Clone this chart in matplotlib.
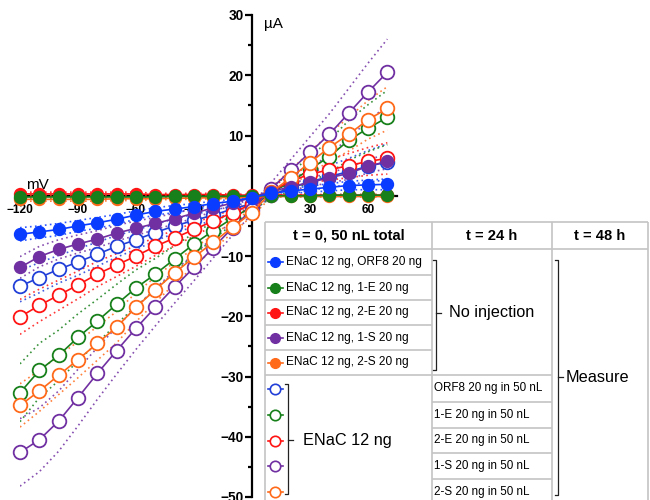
import matplotlib.pyplot as plt
from matplotlib.lines import Line2D
from matplotlib.patches import Rectangle

plt.rcParams['font.family'] = ['Liberation Sans', 'DejaVu Sans']

# holding potential steps (mV)
voltage = [-120, -110, -100, -90, -80, -70, -60, -50, -40, -30,
           -20, -10, 0, 10, 20, 30, 40, 50, 60, 70]

# mean current (uA), co-injected at t = 0 (filled symbols)
orf8_co = [-6.4, -6.0, -5.6, -5.0, -4.5, -3.9, -3.2, -2.6, -2.2, -1.8,
           -1.3, -0.9, -0.3, 0.4, 0.8, 1.1, 1.4, 1.7, 1.8, 1.9]
e1_co = [-0.2, -0.2, -0.2, -0.2, -0.2, -0.2, -0.2, -0.2, -0.1, -0.1,
         -0.1, -0.1, 0.0, 0.0, 0.0, 0.0, 0.1, 0.1, 0.1, 0.1]
e2_co = [0.3, 0.3, 0.3, 0.3, 0.3, 0.3, 0.3, 0.2, 0.2, 0.2,
         0.2, 0.1, 0.1, 0.1, 0.1, 0.1, 0.1, 0.1, 0.1, 0.1]
s1_co = [-11.9, -10.1, -8.9, -8.0, -7.2, -6.2, -5.4, -4.6, -3.8, -2.9,
         -2.0, -1.2, -0.3, 0.7, 1.5, 2.2, 3.0, 3.7, 4.9, 5.7]
s2_co = [-0.6, -0.6, -0.6, -0.6, -0.6, -0.5, -0.5, -0.5, -0.4, -0.4,
         -0.3, -0.3, -0.2, -0.1, -0.1, -0.1, -0.1, -0.1, -0.1, -0.1]

# mean current (uA), second injection at t = 24 h (open symbols)
orf8_24 = [-15.0, -13.6, -12.2, -11.0, -9.7, -8.4, -7.3, -6.1, -5.0, -4.1,
           -3.2, -2.2, -1.3, 0.2, 1.3, 2.3, 3.2, 4.0, 4.9, 5.6]
e1_24 = [-32.7, -29.0, -26.5, -23.5, -20.8, -18.0, -15.3, -13.0, -10.5, -8.0,
         -5.8, -3.7, -1.8, 0.5, 2.3, 4.4, 6.5, 9.2, 11.2, 13.0]
e2_24 = [-20.1, -18.2, -16.5, -14.8, -13.0, -11.5, -10.0, -8.4, -7.0, -5.6,
         -4.2, -2.8, -1.4, 0.8, 2.4, 3.6, 4.3, 5.0, 5.7, 6.2]
s1_24 = [-42.6, -40.5, -37.4, -33.5, -29.5, -25.7, -22.0, -18.5, -15.1, -11.9,
         -8.6, -5.3, -2.3, 1.2, 4.2, 7.2, 10.2, 13.7, 17.2, 20.5]
s2_24 = [-34.8, -32.4, -29.8, -27.2, -24.5, -21.8, -18.5, -15.6, -12.8, -10.2,
         -7.7, -5.2, -2.8, 0.6, 3.0, 5.5, 8.0, 10.2, 12.6, 14.5]

# SD (uA), drawn as dotted lines
orf8_co_sd = [1.1, 1.0, 1.0, 0.9, 0.9, 0.8, 0.7, 0.6, 0.6, 0.5,
              0.4, 0.3, 0.2, 0.3, 0.4, 0.5, 0.6, 0.7, 0.8, 0.9]
e1_co_sd = [0.3, 0.3, 0.3, 0.3, 0.3, 0.3, 0.3, 0.2, 0.2, 0.2,
            0.2, 0.2, 0.1, 0.1, 0.1, 0.1, 0.1, 0.1, 0.1, 0.1]
e2_co_sd = [0.3, 0.3, 0.3, 0.3, 0.3, 0.3, 0.3, 0.2, 0.2, 0.2,
            0.2, 0.2, 0.1, 0.1, 0.1, 0.1, 0.1, 0.1, 0.1, 0.1]
s1_co_sd = [1.8, 1.7, 1.6, 1.5, 1.4, 1.3, 1.2, 1.0, 0.9, 0.8,
            0.6, 0.4, 0.2, 0.3, 0.5, 0.7, 0.8, 1.0, 1.1, 1.2]
s2_co_sd = [0.3, 0.3, 0.3, 0.3, 0.3, 0.3, 0.3, 0.2, 0.2, 0.2,
            0.2, 0.2, 0.1, 0.1, 0.1, 0.1, 0.1, 0.1, 0.1, 0.1]
orf8_24_sd = [2.6, 2.5, 2.3, 2.2, 2.0, 1.8, 1.6, 1.4, 1.2, 1.0,
              0.8, 0.5, 0.3, 0.6, 1.0, 1.4, 1.8, 2.2, 2.6, 3.0]
e1_24_sd = [4.8, 4.5, 4.2, 3.9, 3.6, 3.3, 3.0, 2.6, 2.2, 1.8,
            1.4, 1.0, 0.6, 0.9, 1.5, 2.1, 2.7, 3.3, 3.9, 4.5]
e2_24_sd = [2.9, 2.7, 2.5, 2.3, 2.1, 1.9, 1.7, 1.5, 1.3, 1.1,
            0.8, 0.5, 0.3, 0.6, 1.0, 1.4, 1.7, 2.0, 2.3, 2.6]
s1_24_sd = [5.6, 5.3, 5.0, 4.7, 4.3, 3.9, 3.5, 3.1, 2.7, 2.2,
            1.7, 1.2, 0.7, 1.0, 1.8, 2.6, 3.4, 4.1, 4.8, 5.5]
s2_24_sd = [3.6, 3.4, 3.2, 3.0, 2.8, 2.6, 2.4, 2.1, 1.8, 1.5,
            1.2, 0.9, 0.6, 0.8, 1.3, 1.8, 2.3, 2.8, 3.2, 3.6]

BLUE = '#0a3cff'
BLUE_O = '#2240d8'
GREEN = '#17801a'
RED = '#ff1414'
PURPLE = '#7130a2'
ORANGE = '#ff6a1a'

row_labels = ['ENaC 12 ng, ORF8 20 ng', 'ENaC 12 ng, 1-E 20 ng', 'ENaC 12 ng, 2-E 20 ng',
              'ENaC 12 ng, 1-S 20 ng', 'ENaC 12 ng, 2-S 20 ng']
second_labels = ['ORF8 20 ng in 50 nL', '1-E 20 ng in 50 nL', '2-E 20 ng in 50 nL',
                 '1-S 20 ng in 50 nL', '2-S 20 ng in 50 nL']
row_colors = [BLUE, GREEN, RED, PURPLE, ORANGE]
open_colors = [BLUE_O, GREEN, RED, PURPLE, ORANGE]

filled = [(orf8_co, orf8_co_sd), (e1_co, e1_co_sd), (e2_co, e2_co_sd),
          (s1_co, s1_co_sd), (s2_co, s2_co_sd)]
opened = [(orf8_24, orf8_24_sd), (e1_24, e1_24_sd), (e2_24, e2_24_sd),
          (s1_24, s1_24_sd), (s2_24, s2_24_sd)]

fig = plt.figure(figsize=(6.5, 5), dpi=100)
ax = fig.add_axes([20 / 650, 3 / 500, 377 / 650, 482 / 500])

# dotted SD lines first
for (m, sd), c in zip(opened + filled, open_colors + row_colors):
    lo = [a - b for a, b in zip(m, sd)]
    hi = [a + b for a, b in zip(m, sd)]
    for band in (lo, hi):
        ax.plot(voltage, band, ls=(0, (1, 2)), color=c, lw=1.2, alpha=0.85, zorder=2)

# open symbols
for (m, sd), c in zip(opened, open_colors):
    ax.plot(voltage, m, color=c, lw=1.2, marker='o', ms=9.8, mfc='white',
            mec=c, mew=1.3, clip_on=False, zorder=3)

# filled symbols (green over red / orange)
for i in [2, 4, 3, 1, 0]:
    c = row_colors[i]
    ax.plot(voltage, filled[i][0], color=c, lw=1.2, marker='o', ms=8.6,
            mfc=c, mec=c, clip_on=False, zorder=4)

ax.set_xlim(-120, 75)
ax.set_ylim(-50, 30)
ax.spines['left'].set_position(('data', 0))
ax.spines['bottom'].set_position(('data', 0))
ax.spines['right'].set_visible(False)
ax.spines['top'].set_visible(False)
for s in ('left', 'bottom'):
    ax.spines[s].set_linewidth(1.6)
    ax.spines[s].set_zorder(1)
ax.patch.set_visible(False)

ax.set_yticks([-50, -40, -30, -20, -10, 10, 20, 30])
ax.set_yticks([-45, -35, -25, -15, -5, 5, 15, 25], minor=True)
ax.set_xticks([-120, -90, -60, -30, 30, 60])
ax.tick_params(axis='y', which='major', length=5, width=1.6, labelsize=9.8, pad=1)
ax.tick_params(axis='y', which='minor', length=3, width=1.6)
ax.tick_params(axis='x', which='major', length=0, labelsize=8.6, pad=6)
for lab in ax.get_xticklabels() + ax.get_yticklabels():
    lab.set_fontweight('bold')

ax.text(-117, 0.6, 'mV', fontsize=11, ha='left', va='bottom')
ax.text(6, 28.5, 'µA', fontsize=11, ha='left', va='center')

# overlay in pixel coordinates for the table
ov = fig.add_axes([0, 0, 1, 1], zorder=10)
ov.set_xlim(0, 650)
ov.set_ylim(500, 0)
ov.axis('off')

GRID = '#c4c4c4'
ov.add_patch(Rectangle((265, 222), 390, 290, facecolor='white', edgecolor='none'))


def hline(x0, x1, y):
    ov.plot([x0, x1], [y, y], color=GRID, lw=1.2, solid_capstyle='butt')


def vline(x, y0, y1):
    ov.plot([x, x], [y0, y1], color=GRID, lw=1.2, solid_capstyle='butt')


x0, x1, x2, x3 = 265, 432, 552, 648
hline(x0, x3, 222)
hline(x0, x3, 249)
for y in [275, 300, 325, 350, 375]:
    hline(x0, x1, y)
for y in [375, 402, 428, 453, 479, 505]:
    hline(x1, x2, y)
for x in (x0, x1, x2, x3):
    vline(x, 222, 510)

ov.text((x0 + x1) / 2, 236, 't = 0, 50 nL total', fontsize=10.6, fontweight='bold',
        ha='center', va='center')
ov.text((x1 + x2) / 2, 236, 't = 24 h', fontsize=10.6, fontweight='bold',
        ha='center', va='center')
ov.text((x2 + x3) / 2, 236, 't = 48 h', fontsize=10.6, fontweight='bold',
        ha='center', va='center')

top_rows = [262, 287.5, 312.5, 337.5, 362.5]
for y, lab, c in zip(top_rows, row_labels, row_colors):
    ov.add_line(Line2D([268, 283], [y, y], color=c, lw=1.2))
    ov.plot(275, y, 'o', ms=7, color=c)
    ov.text(286, y, lab, fontsize=8.6, ha='left', va='center')

low_rows = [388.5, 415, 440.5, 466, 492]
for y, lab, c in zip(low_rows, second_labels, open_colors):
    ov.add_line(Line2D([268, 283], [y, y], color=c, lw=1.2))
    ov.plot(275, y, 'o', ms=7.5, mfc='white', mec=c, mew=1.2)
    ov.text(434, y, lab, fontsize=8.4, ha='left', va='center')


def bracket(x, y0, y1, ym, label, tx, size):
    ov.plot([x - 3, x, x, x - 3], [y0, y0, y1, y1], color='#222222', lw=0.9)
    ov.plot([x, x + 5], [ym, ym], color='#222222', lw=0.9)
    ov.text(tx, ym, label, fontsize=size, ha='left', va='center')


bracket(436, 260, 370, 313, 'No injection', 449, 11.7)
bracket(558, 260, 495, 377, 'Measure', 566, 11.7)
bracket(288, 384, 494, 440, 'ENaC 12 ng', 303, 11.7)

fig.savefig('out.png', dpi=100)
